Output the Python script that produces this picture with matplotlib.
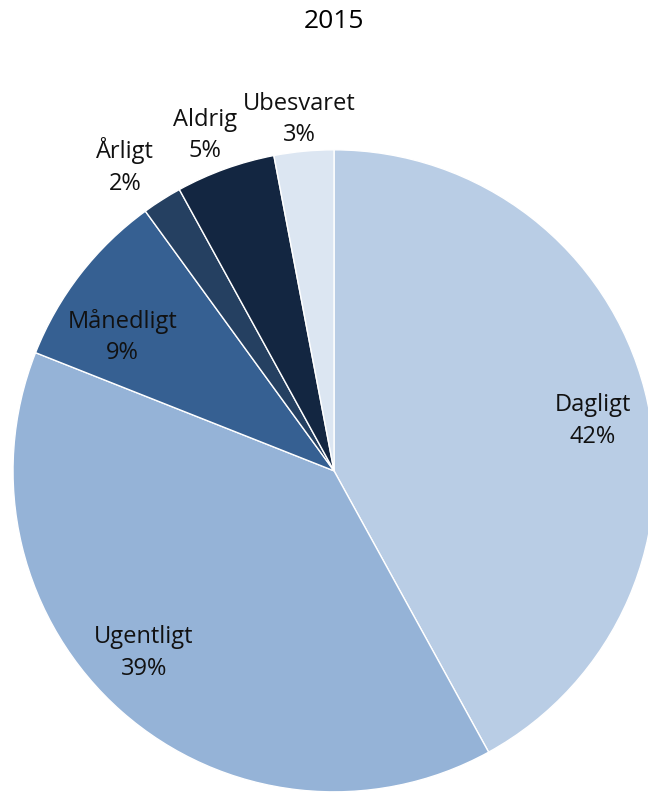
import numpy as np
import matplotlib
matplotlib.use("Agg")
import matplotlib.pyplot as plt

plt.rcParams['font.family'] = ['Open Sans', 'DejaVu Sans']

# ---- Data
categories = ["Dagligt", "Ugentligt", "Månedligt", "Årligt", "Aldrig", "Ubesvaret"]
shares = [42, 39, 9, 2, 5, 3]
colors = ["#B9CDE5", "#95B3D7", "#366092", "#254061", "#132641", "#DCE6F2"]
# label placement: radius (fraction of pie radius) and angle tweak vs wedge middle
label_dist = [0.82, 0.82, 0.78, 1.15, 1.12, 1.10]
label_turn = [-3.5, -4.8, 5.5, 2.1, 1.3, 0.2]

fig = plt.figure(figsize=(6.48, 7.94), dpi=100)
ax = fig.add_axes([0.0201, 0.0027, 0.9907, 0.8086])

wedges, _ = ax.pie(shares, colors=colors, startangle=90, counterclock=False,
                   wedgeprops=dict(edgecolor="white", linewidth=1.0))
ax.set_xlim(-1, 1)
ax.set_ylim(-1, 1)
ax.set_aspect("auto")
ax.axis("off")

for w, name, val, d, t in zip(wedges, categories, shares, label_dist, label_turn):
    mid = np.deg2rad((w.theta1 + w.theta2) / 2 + t)
    ax.text(d * np.cos(mid), d * np.sin(mid), f"{name}\n{val}%",
            ha="center", va="center", fontsize=17, linespacing=1.42,
            color="#111111")

fig.text(0.515, 1 - 22 / 794, "2015", ha="center", va="center", fontsize=19)

fig.savefig("out.png", dpi=100)
plt.close(fig)
